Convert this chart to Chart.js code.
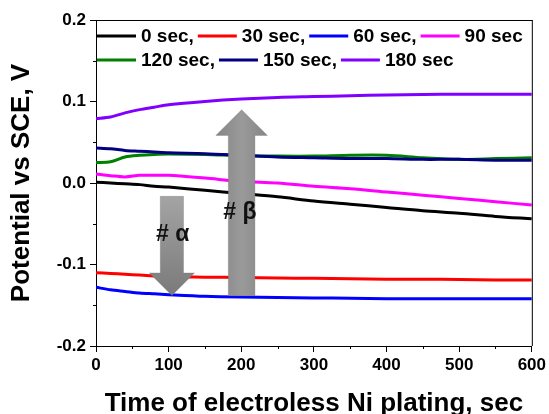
<!DOCTYPE html>
<html>
<head>
<meta charset="utf-8">
<script src="https://cdn.jsdelivr.net/npm/chart.js@4"></script>
<style>
html,body{margin:0;padding:0;background:#fff;}
#wrap{width:549px;height:414px;position:relative;}
</style>
</head>
<body>
<div id="wrap"><canvas id="c" width="549" height="414"></canvas></div>
<script>
// ---- data ----
const times = [0, 20, 40, 60, 80, 100, 150, 200, 250, 300, 350, 400, 450, 500, 550, 600];
const seriesLabels = ["0 sec,", "30 sec,", "60 sec,", "90 sec", "120 sec,", "150 sec,", "180 sec"];
const s0   = [0.001, 0.000, -0.001, -0.002, -0.004, -0.005, -0.009, -0.013, -0.017, -0.022, -0.026, -0.030, -0.034, -0.037, -0.041, -0.044];
const s30  = [-0.110, -0.111, -0.112, -0.113, -0.114, -0.115, -0.1155, -0.116, -0.1165, -0.117, -0.1175, -0.118, -0.118, -0.1185, -0.119, -0.119];
const s60  = [-0.128, -0.131, -0.133, -0.135, -0.136, -0.137, -0.139, -0.140, -0.1405, -0.141, -0.1415, -0.142, -0.142, -0.142, -0.142, -0.142];
const s90  = [0.011, 0.009, 0.0075, 0.0095, 0.0095, 0.0095, 0.006, 0.002, 0.000, -0.004, -0.007, -0.011, -0.015, -0.019, -0.023, -0.027];
const s120 = [0.025, 0.026, 0.032, 0.034, 0.035, 0.0355, 0.035, 0.0335, 0.033, 0.033, 0.034, 0.034, 0.031, 0.029, 0.030, 0.031];
const s150 = [0.043, 0.042, 0.040, 0.039, 0.038, 0.037, 0.036, 0.034, 0.032, 0.031, 0.030, 0.030, 0.029, 0.029, 0.028, 0.028];
const s180 = [0.079, 0.081, 0.086, 0.090, 0.093, 0.096, 0.100, 0.103, 0.105, 0.106, 0.107, 0.108, 0.1085, 0.109, 0.109, 0.109];
const yTicks = [-0.2, -0.1, 0.0, 0.1, 0.2];
const xTicks = [0, 100, 200, 300, 400, 500, 600];
const xTitle = "Time of electroless Ni plating, sec";
const yTitle = "Potential vs SCE, V";
// arrow annotations (data units)
const arrowAlpha = {label: "# α", x: 104.5, top: -0.0164, headBase: -0.1104, tip: -0.1379, shaftHalf: 16, headHalf: 31, textX: 105.6, textY: -0.0634};
const arrowBeta  = {label: "# β", x: 200.5, top: -0.1383, headBase: 0.0584, tip: 0.0899, shaftHalf: 18.3, headHalf: 35.5, textX: 198, textY: -0.0364};

// ---- styles ----
const colors = ["#000000", "#ff0000", "#0000ff", "#ff00ff", "#008000", "#000080", "#8000ff"];
const orders = [0, 1, 2, 3, 5, 4, 6];
const FONT = "'Liberation Sans', Arial, sans-serif";
const allSeries = [s0, s30, s60, s90, s120, s150, s180];

const datasets = allSeries.map((vals, i) => ({
  label: seriesLabels[i],
  data: times.map((t, j) => ({x: t, y: vals[j]})),
  borderColor: colors[i],
  backgroundColor: colors[i],
  borderWidth: 3,
  pointRadius: 0,
  tension: 0.3,
  fill: false,
  order: orders[i]
}));

const framePlugin = {
  id: 'frame',
  afterDraw(chart) {
    const {ctx, chartArea: a, scales} = chart;
    ctx.save();
    ctx.strokeStyle = '#000';
    ctx.lineWidth = 1;
    ctx.beginPath();
    ctx.moveTo(a.left, a.top + 0.5); ctx.lineTo(a.right + 0.5, a.top + 0.5);
    ctx.moveTo(a.right + 0.5, a.top); ctx.lineTo(a.right + 0.5, a.bottom);
    // minor ticks
    const ys = scales.y, xs = scales.x;
    for (let i = 0; i < yTicks.length - 1; i++) {
      const v = (yTicks[i] + yTicks[i + 1]) / 2;
      const py = Math.round(ys.getPixelForValue(v)) + 0.5;
      ctx.moveTo(a.left - 3, py); ctx.lineTo(a.left, py);
    }
    for (let i = 0; i < xTicks.length - 1; i++) {
      const v = (xTicks[i] + xTicks[i + 1]) / 2;
      const px = Math.round(xs.getPixelForValue(v)) + 0.5;
      ctx.moveTo(px, a.bottom); ctx.lineTo(px, a.bottom + 3);
    }
    ctx.stroke();
    ctx.restore();
  }
};

function drawArrow(chart, ar, vertGrad) {
  const {ctx, scales: {x, y}} = chart;
  const cx = x.getPixelForValue(ar.x);
  const top = y.getPixelForValue(ar.top);
  const hb = y.getPixelForValue(ar.headBase);
  const tip = y.getPixelForValue(ar.tip);
  const sh = ar.shaftHalf * x.width / 600;
  const hh = ar.headHalf * x.width / 600;
  ctx.save();
  let g;
  if (vertGrad) {
    g = ctx.createLinearGradient(0, Math.min(top, tip), 0, Math.max(top, tip));
    g.addColorStop(0, '#a4a4a4');
    g.addColorStop(1, '#7a7a7a');
  } else {
    g = ctx.createLinearGradient(cx - hh, 0, cx + hh, 0);
    g.addColorStop(0, '#858585');
    g.addColorStop(0.5, '#9a9a9a');
    g.addColorStop(1, '#858585');
  }
  ctx.fillStyle = g;
  ctx.beginPath();
  ctx.moveTo(cx - sh, top);
  ctx.lineTo(cx + sh, top);
  ctx.lineTo(cx + sh, hb);
  ctx.lineTo(cx + hh, hb);
  ctx.lineTo(cx, tip);
  ctx.lineTo(cx - hh, hb);
  ctx.lineTo(cx - sh, hb);
  ctx.closePath();
  ctx.fill();
  ctx.strokeStyle = 'rgba(110,110,110,0.5)';
  ctx.lineWidth = 0.6;
  ctx.stroke();
  ctx.fillStyle = '#111';
  ctx.font = "bold 23px " + FONT;
  ctx.textAlign = 'center';
  ctx.textBaseline = 'middle';
  ctx.fillText(ar.label, x.getPixelForValue(ar.textX), y.getPixelForValue(ar.textY));
  ctx.restore();
}

const arrowPlugin = {
  id: 'arrows',
  afterDatasetsDraw(chart) {
    drawArrow(chart, arrowAlpha, true);
    drawArrow(chart, arrowBeta, false);
  }
};

const legendPlugin = {
  id: 'inlegend',
  afterDraw(chart) {
    const {ctx, chartArea: a} = chart;
    const ds = chart.data.datasets;
    const rows = [[0, 1, 2, 3], [4, 5, 6]];
    const rowY = [a.top + 16, a.top + 40];
    ctx.save();
    ctx.font = "bold 19px " + FONT;
    ctx.textBaseline = 'middle';
    ctx.textAlign = 'left';
    rows.forEach((r, ri) => {
      let px = a.left + 1;
      const py = rowY[ri];
      r.forEach(i => {
        ctx.strokeStyle = ds[i].borderColor;
        ctx.lineWidth = 3;
        ctx.beginPath();
        ctx.moveTo(px, py); ctx.lineTo(px + 39, py);
        ctx.stroke();
        px += 39 + 5;
        ctx.fillStyle = '#000';
        ctx.fillText(ds[i].label, px, py + 1);
        px += ctx.measureText(ds[i].label).width + 4;
      });
    });
    ctx.restore();
  }
};

new Chart(document.getElementById('c'), {
  type: 'line',
  data: {datasets},
  options: {
    responsive: false,
    animation: false,
    devicePixelRatio: 1,
    layout: {padding: {left: 0, top: 20, right: 15, bottom: 0}},
    plugins: {legend: {display: false}, tooltip: {enabled: false}},
    scales: {
      x: {
        type: 'linear',
        min: 0, max: 600,
        afterBuildTicks: s => { s.ticks = xTicks.map(v => ({value: v})); },
        afterFit: s => { s.height = 68; },
        ticks: {color: '#000', font: {family: FONT, size: 17, weight: 'bold'}, padding: 3, maxRotation: 0,
                callback: v => String(v)},
        grid: {drawOnChartArea: false, drawTicks: true, tickLength: 6, color: '#000', lineWidth: 1},
        border: {display: true, color: '#000', width: 1},
        title: {display: true, text: xTitle, color: '#000', font: {family: FONT, size: 26, weight: 'bold', lineHeight: 1}, padding: {top: 0, bottom: -3}}
      },
      y: {
        type: 'linear',
        min: -0.2, max: 0.2,
        afterBuildTicks: s => { s.ticks = yTicks.map(v => ({value: v})); },
        afterFit: s => { s.width = 96; },
        ticks: {color: '#000', font: {family: FONT, size: 17, weight: 'bold'}, padding: 4,
                callback: v => Number(v).toFixed(1)},
        grid: {drawOnChartArea: false, drawTicks: true, tickLength: 6, color: '#000', lineWidth: 1},
        border: {display: true, color: '#000', width: 1},
        title: {display: true, text: yTitle, color: '#000', font: {family: FONT, size: 26, weight: 'bold', lineHeight: 1}, padding: {top: 9, bottom: 0}}
      }
    }
  },
  plugins: [framePlugin, arrowPlugin, legendPlugin]
});
</script>
</body>
</html>
